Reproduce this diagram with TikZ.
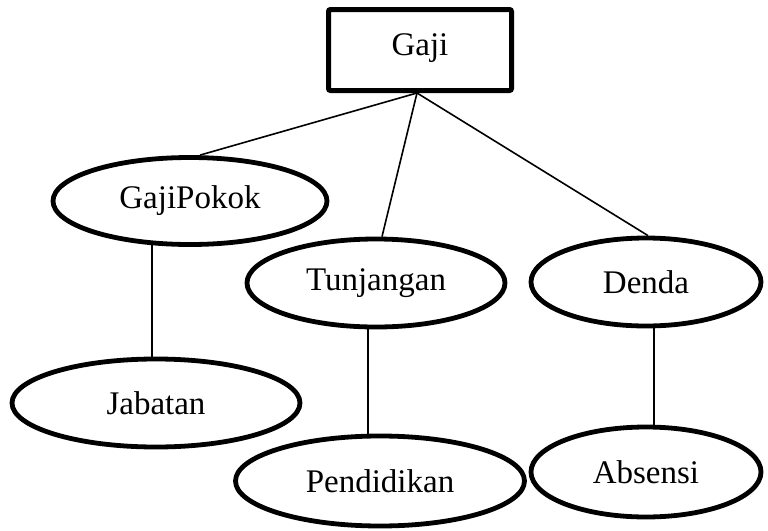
\documentclass[tikz,border=0pt]{standalone}
\usepackage{fontspec}
\setmainfont{Liberation Serif}
\usetikzlibrary{shapes.geometric,backgrounds}
\begin{document}
\begin{tikzpicture}[x=0.5pt,y=-0.5pt,
  label font/.style={font=\fontsize{16.5}{19}\selectfont},
  attr/.style={ellipse,draw,line width=2.4pt,fill=white,inner sep=0pt,label font},
  entity/.style={rectangle,draw,line width=2.5pt,fill=white,inner sep=0pt,
    rounded corners=1pt,minimum width=91.5pt,minimum height=40.5pt,label font},
  link/.style={line width=0.8pt}]
\useasboundingbox (0,0) rectangle (768,531);

% entity and its attributes
\node[entity] (gaji) at (420,50) {\raisebox{5pt}{Gaji}};
\node[attr,minimum width=137pt,minimum height=43.5pt] (pokok) at (190,201) {GajiPokok};
\node[attr,minimum width=129pt,minimum height=44pt] (tunj) at (376,283) {Tunjangan};
\node[attr,minimum width=115pt,minimum height=44pt] (denda) at (646,282) {Denda};
\node[attr,minimum width=144pt,minimum height=44pt] (jab) at (156,403) {Jabatan};
\node[attr,minimum width=144.5pt,minimum height=45pt] (pend) at (380,481) {Pendidikan};
\node[attr,minimum width=115pt,minimum height=45pt] (abs) at (646,472) {Absensi};

% connectors, kept behind the filled shapes
\begin{scope}[on background layer]
\draw[link] ([xshift=-1.5pt]gaji.south) -- ([xshift=5pt]pokok.north);
\draw[link] ([xshift=-1.5pt]gaji.south) -- ([xshift=3pt]tunj.north);
\draw[link] ([xshift=-1.5pt]gaji.south) -- ([xshift=1pt]denda.north);
\draw[link] ([xshift=-2pt]jab.north) -- ([xshift=-2pt]jab.north |- pokok.center);
\draw[link] ([xshift=-6pt]pend.north) -- ([xshift=-6pt]pend.north |- tunj.center);
\draw[link] ([xshift=4pt]abs.north) -- ([xshift=4pt]abs.north |- denda.center);
\end{scope}
\end{tikzpicture}
\end{document}
